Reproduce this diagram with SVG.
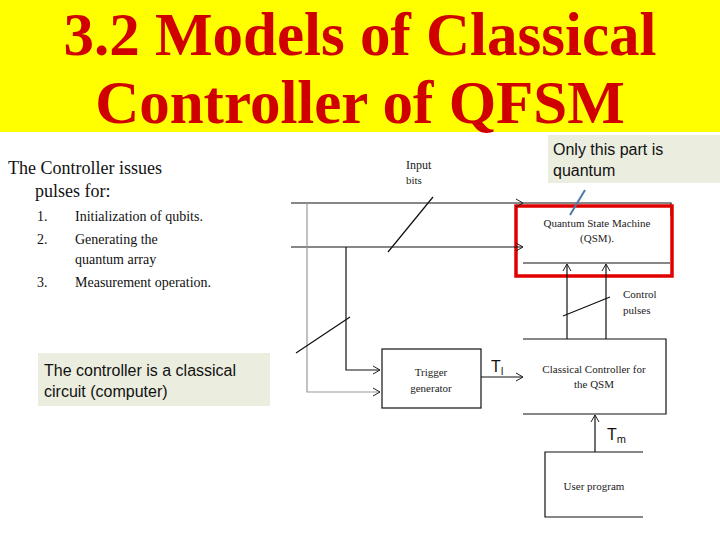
<svg xmlns="http://www.w3.org/2000/svg" width="720" height="540" viewBox="0 0 720 540">
<defs>
<marker id="a" markerWidth="10" markerHeight="10" refX="9" refY="5" orient="auto" markerUnits="userSpaceOnUse"><path d="M2,1 L9,5 L2,9" fill="none" stroke="#222" stroke-width="1"/></marker>
</defs>
<style>
.s{font-family:"Liberation Serif",serif;fill:#222}
.l{stroke:#111;stroke-width:1.2;fill:none}
.g{stroke:#999;stroke-width:1.2;fill:none}
</style>
<rect width="720" height="540" fill="#fff"/>
<g id="title">
<rect x="0" y="0" width="720" height="132" fill="#ffff00"/>
<text x="360" y="55" text-anchor="middle" font-family="Liberation Serif,serif" font-weight="bold" font-size="61" fill="#d00000">3.2 Models of Classical</text>
<text x="360" y="123" text-anchor="middle" font-family="Liberation Serif,serif" font-weight="bold" font-size="61" fill="#d00000">Controller of QFSM</text>
</g>
<g id="intro" font-family="Liberation Serif,serif" fill="#111">
<text x="8" y="174" font-size="18">The Controller issues</text>
<text x="35" y="197" font-size="18">pulses for:</text>
<text x="37" y="221" font-size="14">1.</text><text x="75" y="221" font-size="14">Initialization of qubits.</text>
<text x="37" y="244" font-size="14">2.</text><text x="75" y="244" font-size="14">Generating the</text>
<text x="75" y="264" font-size="14">quantum array</text>
<text x="37" y="287" font-size="14">3.</text><text x="75" y="287" font-size="14">Measurement operation.</text>
</g>
<g id="note">
<rect x="38" y="353" width="232" height="53" fill="#ebeddf"/>
<text x="44" y="376" font-family="Liberation Sans,sans-serif" font-size="16" fill="#111">The controller is a classical</text>
<text x="44" y="397" font-family="Liberation Sans,sans-serif" font-size="16" fill="#111">circuit (computer)</text>
</g>
<g id="callout">
<rect x="548" y="135" width="172" height="48" fill="#ebeddf"/>
<text x="553" y="155" font-family="Liberation Sans,sans-serif" font-size="16" fill="#111">Only this part is</text>
<text x="553" y="176" font-family="Liberation Sans,sans-serif" font-size="16" fill="#111">quantum</text>
</g>
<g id="qsm">
<path class="l" d="M523,203 H671 V216 M523,263 H670"/>
<text x="597" y="227" text-anchor="middle" class="s" font-size="11">Quantum State Machine</text>
<text x="597" y="242" text-anchor="middle" class="s" font-size="11">(QSM).</text>
<rect x="516" y="206" width="156" height="70" fill="none" stroke="#e00000" stroke-width="3.5"/>
</g>
<g id="trigger">
<rect x="382" y="349" width="99" height="59" class="l"/>
<text x="431" y="376" text-anchor="middle" class="s" font-size="11">Trigger</text>
<text x="431" y="392" text-anchor="middle" class="s" font-size="11">generator</text>
</g>
<g id="controller">
<path class="l" d="M523,339 H666 V414 H523"/>
<text x="594" y="373" text-anchor="middle" class="s" font-size="11">Classical Controller for</text>
<text x="594" y="388" text-anchor="middle" class="s" font-size="11">the QSM</text>
</g>
<g id="user">
<path class="l" stroke="#555" d="M643,452 H545 V517 H643"/>
<text x="594" y="490" text-anchor="middle" class="s" font-size="11">User program</text>
</g>
<g id="connectors">
<path class="l" d="M291,203 H523" marker-end="url(#a)"/>
<path class="l" d="M291,247 H523" marker-end="url(#a)"/>
<path class="g" d="M307,203 V392 H380" marker-end="url(#a)"/>
<path class="l" d="M346,247 V370 H380" marker-end="url(#a)"/>
<path class="l" d="M481,377 H523" marker-end="url(#a)"/>
<path class="l" d="M567,339 V264" marker-end="url(#a)"/>
<path class="l" d="M606,339 V264" marker-end="url(#a)"/>
<path class="l" stroke="#666" d="M595,452 V415" marker-end="url(#a)"/>
<path class="l" stroke-width="0.9" d="M388,252 L433,197 M296,353 L350,317 M563,316 L610,297"/>
<path stroke="#4a7aa8" stroke-width="2" d="M585,190 L570,215"/>
</g>
<g id="labels">
<text x="406" y="169" class="s" font-size="12">Input</text>
<text x="406" y="184" class="s" font-size="11">bits</text>
<text x="623" y="298" class="s" font-size="11">Control</text>
<text x="623" y="314" class="s" font-size="11">pulses</text>
<text x="491" y="372" font-family="Liberation Sans,sans-serif" font-size="16" fill="#111">T<tspan font-size="10" dy="3">I</tspan></text>
<text x="607" y="440" font-family="Liberation Sans,sans-serif" font-size="16" fill="#111">T<tspan font-size="11" dy="3">m</tspan></text>
</g>
</svg>
